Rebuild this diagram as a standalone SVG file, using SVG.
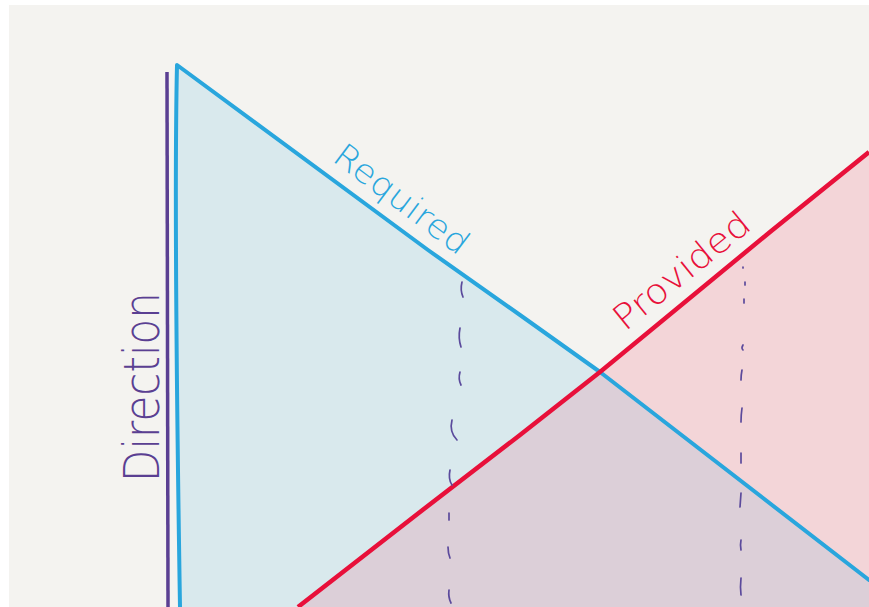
<svg xmlns="http://www.w3.org/2000/svg" width="869" height="607" viewBox="0 0 869 607">
<style>
.blue{fill:none;stroke:#29a6dd;stroke-width:4;stroke-linejoin:round;stroke-linecap:round}
.red{fill:none;stroke:#e8103a;stroke-width:4.5;stroke-linejoin:round}
.purple{fill:none;stroke:#5a3f92;stroke-width:3.5}
.dash{fill:none;stroke:#5b4a9c;stroke-width:1.7;stroke-linecap:round}
.hand{font-family:"DejaVu Sans","Liberation Sans",sans-serif;font-weight:200}
</style>
<rect x="0" y="0" width="869" height="607" fill="#ffffff"/>
<rect x="9" y="5" width="860" height="602" fill="#f4f3f0"/>
<g id="required-area">
<path d="M177,65 L428,250 L520,315 L600,372 L869,580 L869,607 L180,607 C177,420 174,200 177,65 Z" fill="#d9e9ed"/>
</g>
<g id="provided-area">
<path d="M298,607 L420,512 L520,435 L600,372 L770,232 L869,152 L869,607 Z" fill="#f3d5d8"/>
</g>
<g id="overlap-area">
<path d="M298,607 L420,512 L520,435 L600,372 L869,580 L869,607 Z" fill="#dccfd8"/>
</g>
<g id="connectors">
<path class="purple" d="M167,72 L168,607"/>
<path class="blue" d="M180,607 C177,420 174,200 177,65 L428,250 L520,315 L600,372 L869,580"/>
<path class="red" d="M298,607 L420,512 L520,435 L600,372 L770,232 L869,152"/>
<g id="dashes-left">
<path class="dash" d="M462,282 q-2,8 1,15"/>
<path class="dash" d="M460,328 q-2,10 1,19"/>
<path class="dash" d="M460,372 q-2,7 1,13"/>
<path class="dash" d="M452,420 q-3,12 5,20"/>
<path class="dash" d="M450,470 q-2,9 2,15"/>
<path class="dash" d="M449,513 l0,7"/>
<path class="dash" d="M448,547 q0,6 2,11"/>
<path class="dash" d="M449,590 q-1,7 2,13"/>
</g>
<g id="dashes-right">
<path class="dash" d="M743,267 l0,1"/>
<path class="dash" d="M745,282 l0,3"/>
<path class="dash" d="M744,299 l0,4"/>
<path class="dash" d="M743,345 q-2,3 0,5"/>
<path class="dash" d="M742,370 q-1,5 -1,10"/>
<path class="dash" d="M742,408 q-1,7 -1,14"/>
<path class="dash" d="M741,453 l0,10"/>
<path class="dash" d="M741,493 l-1,14"/>
<path class="dash" d="M741,540 q-1,5 0,10"/>
<path class="dash" d="M741,578 q-1,9 0,17"/>
</g>
</g>
<g id="label-required">
<text class="hand" x="0" y="0" font-size="33" fill="#29a6dd" transform="translate(331,160) rotate(37)" textLength="160" lengthAdjust="spacingAndGlyphs">Required</text>
</g>
<g id="label-provided">
<text class="hand" x="0" y="0" font-size="35" fill="#e8103a" transform="translate(625,332) rotate(-39)" textLength="165" lengthAdjust="spacingAndGlyphs">Provided</text>
</g>
<g id="label-direction">
<text class="hand" x="0" y="0" font-size="50" fill="#5a3f92" transform="translate(159,482) rotate(-90)" textLength="190" lengthAdjust="spacingAndGlyphs">Direction</text>
</g>
</svg>
